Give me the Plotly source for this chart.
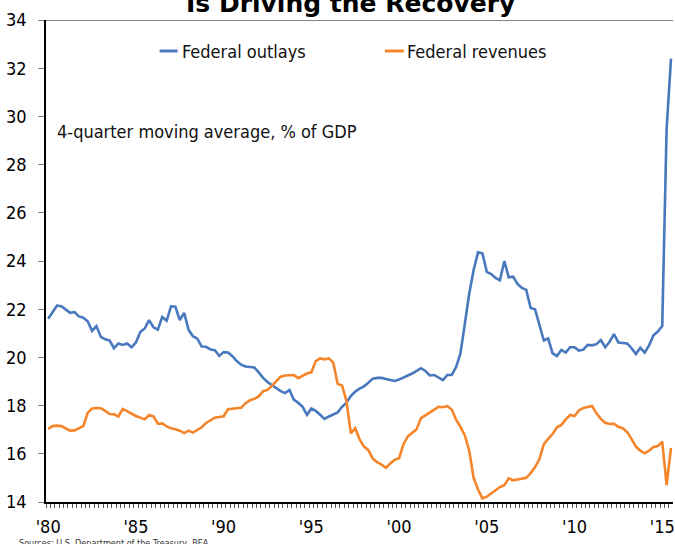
import plotly.graph_objects as go

# ---- data (quarterly, 4-quarter moving average, % of GDP) ----
start_year = 1980
outlays = [
    21.6, 21.9, 22.15, 22.12, 22.0, 21.85, 21.88, 21.7, 21.65, 21.5,
    21.1, 21.3, 20.85, 20.75, 20.7, 20.38, 20.58, 20.52, 20.58, 20.42,
    20.62, 21.05, 21.2, 21.55, 21.25, 21.15, 21.68, 21.52, 22.12, 22.1,
    21.55, 21.85, 21.15, 20.88, 20.78,
    20.45, 20.44, 20.33, 20.3, 20.06, 20.22, 20.2, 20.05, 19.85, 19.7,
    19.62, 19.6, 19.58, 19.38, 19.15, 18.98, 18.85, 18.72, 18.6, 18.52,
    18.65, 18.25, 18.12, 17.95, 17.62, 17.88, 17.78, 17.62, 17.45, 17.55,
    17.62, 17.72, 17.95, 18.12,
    18.4, 18.58, 18.7, 18.8, 18.95, 19.12, 19.15, 19.15, 19.1, 19.05,
    19.02, 19.08, 19.15, 19.25, 19.33, 19.45, 19.55, 19.44, 19.25, 19.27,
    19.15, 19.06, 19.27, 19.27, 19.6, 20.17, 21.4, 22.65, 23.63, 24.36,
    24.32, 23.55, 23.46, 23.3,
    23.2, 24.0, 23.32, 23.35, 23.05, 22.88, 22.8, 22.05, 22.0, 21.3,
    20.7, 20.78, 20.17, 20.06, 20.31, 20.2, 20.42, 20.42, 20.28, 20.32,
    20.52, 20.5, 20.55, 20.72, 20.42, 20.65, 20.97, 20.62, 20.6, 20.58,
    20.38, 20.14, 20.4, 20.2, 20.5, 20.92, 21.07, 21.3, 29.5, 32.4,
]
revenues = [
    17.03, 17.15, 17.17, 17.15, 17.05, 16.96, 16.97, 17.05, 17.15, 17.7,
    17.88, 17.9, 17.89, 17.78, 17.65, 17.64, 17.55, 17.86, 17.76, 17.66,
    17.57, 17.5, 17.43, 17.61, 17.55, 17.25, 17.26, 17.14, 17.06, 17.02,
    16.96, 16.86, 16.96, 16.88, 17.0,
    17.1, 17.28, 17.4, 17.5, 17.53, 17.56, 17.85, 17.86, 17.88, 17.91,
    18.1, 18.22, 18.28, 18.38, 18.6, 18.65, 18.82, 19.02, 19.2, 19.25,
    19.27, 19.27, 19.14, 19.25, 19.33, 19.38, 19.85, 19.96, 19.92, 19.96,
    19.78, 18.9, 18.83, 18.2,
    16.85, 17.06, 16.6, 16.3, 16.15, 15.8, 15.65, 15.55, 15.42, 15.6,
    15.75, 15.82, 16.4, 16.72, 16.86, 17.02, 17.48, 17.6, 17.72, 17.85,
    17.95, 17.93, 17.98, 17.84, 17.42, 17.12, 16.76, 16.12, 15.0, 14.52,
    14.15, 14.22, 14.36, 14.5,
    14.62, 14.7, 14.98, 14.9, 14.93, 14.94, 15.0, 15.2, 15.45, 15.78,
    16.4, 16.62, 16.82, 17.1, 17.2, 17.43, 17.61, 17.57, 17.8, 17.9,
    17.94, 17.98, 17.68, 17.45, 17.29, 17.24, 17.24, 17.12, 17.06, 16.9,
    16.62, 16.3, 16.13, 16.02, 16.13, 16.28, 16.32, 16.5, 14.7, 16.25,
]
series_names = ["Federal outlays", "Federal revenues"]
tick_years = [1980, 1985, 1990, 1995, 2000, 2005, 2010, 2015]
tick_labels = ["'80", "'85", "'90", "'95", "'00", "'05", "'10", "'15"]
y_ticks = [14, 16, 18, 20, 22, 24, 26, 28, 30, 32, 34]

title_text = "Is Driving the Recovery"
note_text = "4-quarter moving average, % of GDP"
source_text = "Sources: U.S. Department of the Treasury, BEA"

# ---- styling ----
colors = ["#4878BE", "#F5852A"]
FONT = "DejaVu Sans Condensed, DejaVu Sans, sans-serif"
TITLE_FONT = "DejaVu Sans, sans-serif"

n = min(len(outlays), len(revenues))
x = [start_year + i / 4 for i in range(n)]

fig = go.Figure()
for name, vals, col in zip(series_names, [outlays, revenues], colors):
    fig.add_trace(go.Scatter(x=x, y=vals[:n], mode="lines", name=name,
                             line=dict(color=col, width=2.6),
                             showlegend=False))

W, H = 675, 544
L, R, T, B = 46, 0, 20, 42
pw, ph = W - L - R, H - T - B

def px_x(p):
    return (p - L) / pw

def px_y(p):
    return (H - B - p) / ph

# manual legend
leg = [(160, 178, 180), (386, 405, 406)]
for (x0, x1, tx), name, col in zip(leg, series_names, colors):
    fig.add_shape(type="line", xref="paper", yref="paper",
                  x0=px_x(x0), x1=px_x(x1), y0=px_y(51), y1=px_y(51),
                  line=dict(color=col, width=3))
    fig.add_annotation(xref="paper", yref="paper", x=px_x(tx), y=px_y(51),
                       xanchor="left", yanchor="middle", showarrow=False,
                       text=name, font=dict(family=FONT, size=18, color="#111"))

fig.add_annotation(xref="paper", yref="paper", x=px_x(55), y=px_y(131),
                   xanchor="left", yanchor="middle", showarrow=False,
                   text=note_text, font=dict(family=FONT, size=18, color="#111"))

fig.add_annotation(xref="paper", yref="paper", x=px_x(351), y=px_y(4),
                   xanchor="center", yanchor="middle", showarrow=False,
                   text="<b>" + title_text + "</b>",
                   font=dict(family=TITLE_FONT, size=25, color="#000"))

fig.add_annotation(xref="paper", yref="paper", x=px_x(17), y=px_y(536),
                   xanchor="left", yanchor="top", showarrow=False,
                   text=source_text, font=dict(family=FONT, size=9, color="#333"))

# top border line at y max
fig.add_shape(type="line", xref="paper", yref="y", x0=0, x1=1,
              y0=y_ticks[-1], y1=y_ticks[-1],
              line=dict(color="#5a5a5a", width=1.5))

fig.update_layout(
    width=W, height=H,
    margin=dict(l=L, r=R, t=T, b=B, pad=0),
    paper_bgcolor="white", plot_bgcolor="white",
    font=dict(family=FONT, color="#000"),
)
fig.update_xaxes(
    range=[start_year - 0.125, start_year - 0.125 + pw / 17.6],
    tickmode="array", tickvals=tick_years, ticktext=tick_labels,
    ticks="", showgrid=False, zeroline=False,
    showline=True, linecolor="#000", linewidth=1.5,
    tickfont=dict(family=FONT, size=18, color="#000"),
    ticklabelstandoff=8, ticklabeloverflow="allow",
    minor=dict(ticks="outside", ticklen=4, tickcolor="#555", tickwidth=1,
               dtick=0.25, tick0=start_year - 0.125, showgrid=False),
)
fig.update_yaxes(
    range=[y_ticks[0], y_ticks[-1]],
    tickmode="array", tickvals=y_ticks,
    ticks="outside", ticklen=6, tickcolor="#808080", tickwidth=1,
    showgrid=False, zeroline=False,
    showline=True, linecolor="#000", linewidth=1.5,
    tickfont=dict(family=FONT, size=18, color="#000"),
    ticklabelstandoff=8,
)

fig.write_html("out.html")
